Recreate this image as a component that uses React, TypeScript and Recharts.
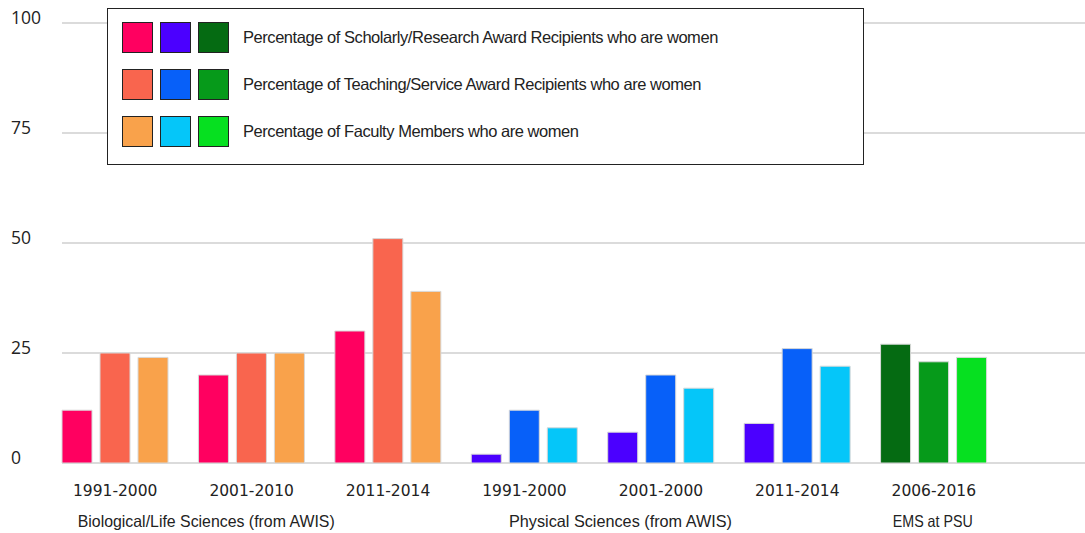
import React from 'react';
import { BarChart, Bar, XAxis, YAxis, CartesianGrid, Cell, Legend } from 'recharts';

const categories = ['1991-2000', '2001-2010', '2011-2014', '1991-2000', '2001-2000', '2011-2014', '2006-2016'];
const disciplineOfCategory = [0, 0, 0, 1, 1, 1, 2];
const disciplineLabels = ['Biological/Life Sciences (from AWIS)', 'Physical Sciences (from AWIS)', 'EMS at PSU'];
const scholarly = [12, 20, 30, 2, 7, 9, 27];
const teaching = [25, 25, 51, 12, 20, 26, 23];
const faculty = [24, 25, 39, 8, 17, 22, 24];
const yTicks = [0, 25, 50, 75, 100];

const seriesNames = [
  'Percentage of Scholarly/Research Award Recipients who are women',
  'Percentage of Teaching/Service Award Recipients who are women',
  'Percentage of Faculty Members who are women',
];
// colors[series][discipline]
const seriesColors = [
  ['#FF0060', '#4B00FF', '#056B12'],
  ['#F9654E', '#0760F9', '#069A1A'],
  ['#F9A24B', '#05C6F9', '#06E020'],
];

const data = categories.map((c, i) => ({
  key: `c${i}`,
  scholarly: scholarly[i],
  teaching: teaching[i],
  faculty: faculty[i],
}));

const seriesKeys = ['scholarly', 'teaching', 'faculty'];

// label styling (positions/sizes only, not data)
const disciplineLabelDx: Record<number, number> = { 0: 91, 3: 96, 6: -1 };
const disciplineLabelWidth = [257, 223, 80];

const XTick = (props: any) => {
  const { x, y, payload } = props;
  const i = payload.index;
  const first = i === 0 || disciplineOfCategory[i] !== disciplineOfCategory[i - 1];
  const d = disciplineOfCategory[i];
  return (
    <g>
      <text x={x} y={y + 20} textAnchor="middle" dominantBaseline="central" fill="#222" fontFamily="DejaVu Sans, sans-serif" fontSize={15.5}>
        {categories[i]}
      </text>
      {first && (
        <text
          x={x + (disciplineLabelDx[i] ?? 0)}
          y={y + 50}
          textAnchor="middle"
          dominantBaseline="central"
          fill="#222"
          fontFamily="'Liberation Sans', sans-serif"
          fontSize={16.5}
          textLength={disciplineLabelWidth[d]}
          lengthAdjust="spacingAndGlyphs"
        >
          {disciplineLabels[d]}
        </text>
      )}
    </g>
  );
};

const YTick = (props: any) => {
  const { y, payload } = props;
  return (
    <text x={11} y={y - 6} textAnchor="start" dominantBaseline="central" fill="#222" fontFamily="'Open Sans', sans-serif" fontSize={17.5}>
      {payload.value}
    </text>
  );
};

const LegendBox = () => (
  <div style={{ width: 757, height: 157, border: '1.5px solid #222', background: '#fff', boxSizing: 'border-box', paddingTop: 13, paddingLeft: 14 }}>
    {seriesNames.map((name, s) => (
      <div key={name} style={{ display: 'flex', alignItems: 'center', height: 31, marginBottom: s < 2 ? 16 : 0 }}>
        {seriesColors[s].map((c) => (
          <div key={c} style={{ width: 31, height: 31, background: c, border: '1.5px solid #222', boxSizing: 'border-box', marginRight: 7 }} />
        ))}
        <span style={{ marginLeft: 7, fontFamily: "'Liberation Sans', sans-serif", fontSize: 16.5, letterSpacing: -0.45, color: '#222' }}>{name}</span>
      </div>
    ))}
  </div>
);

export default function App() {
  return (
    <div style={{ position: 'absolute', left: 0, top: 0, width: 1085, height: 533, background: '#fff' }}>
      <BarChart width={1085} height={533} data={data} margin={{ top: 23, right: 0, left: 0, bottom: 0 }} barSize={30} barGap={8}>
        <CartesianGrid vertical={false} stroke="#cfcfcf" strokeWidth={1.5} />
        <YAxis width={62} domain={[0, 100]} ticks={yTicks} axisLine={false} tickLine={false} tick={<YTick />} interval={0} />
        <XAxis dataKey="key" height={70} axisLine={false} tickLine={false} tick={<XTick />} interval={0} padding={{ left: -15, right: 83 }} />
        <Legend verticalAlign="middle" align="center" layout="horizontal" content={<LegendBox />} wrapperStyle={{ position: 'absolute', left: 107, top: 8, width: 757, height: 157 }} />
        {seriesKeys.map((k, s) => (
          <Bar key={k} dataKey={k} name={seriesNames[s]} isAnimationActive={false} stroke="#d8d8d8" strokeWidth={1}>
            {categories.map((_, i) => (
              <Cell key={i} fill={seriesColors[s][disciplineOfCategory[i]]} />
            ))}
          </Bar>
        ))}
      </BarChart>
    </div>
  );
}
